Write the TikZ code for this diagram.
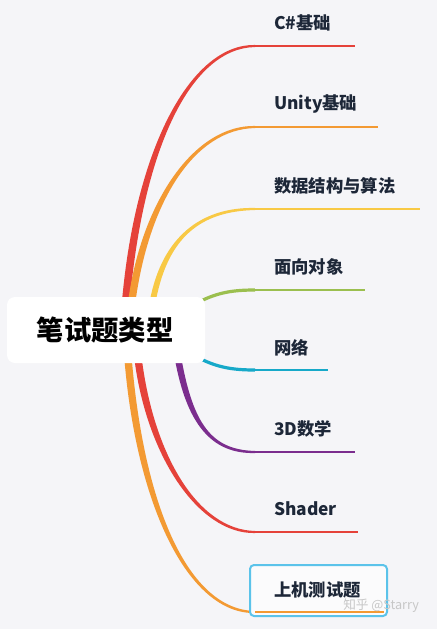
\documentclass[tikz,border=0pt]{standalone}
\usepackage{fontspec}
\newfontfamily\cjk{Noto Sans CJK SC}
\usetikzlibrary{calc}
\definecolor{bgcol}{HTML}{F5F5F8}
\definecolor{txtcol}{HTML}{1D2738}
\definecolor{cred}{HTML}{E5423A}
\definecolor{corange}{HTML}{F39A33}
\definecolor{cyellow}{HTML}{F8C945}
\definecolor{cgreen}{HTML}{9BBF4F}
\definecolor{ccyan}{HTML}{17A9C9}
\definecolor{cpurple}{HTML}{7B2D8E}
\definecolor{cbox}{HTML}{5BC3EA}
% tapered branch: [colour](start)(c1)(c2)(end)(w start:w end)
\def\branch[#1](#2)(#3)(#4)(#5)(#6:#7){\fill[#1] ($(#2)+(-#6,0)$) .. controls ($(#3)+(-#6,0)$) and ($(#4)+(0,{-2*(#7)})$) .. ($(#5)+(0,{-(#7)})$) -- ($(#5)+(0,{#7})$) .. controls ($(#4)+(0,{2*(#7)})$) and ($(#3)+(#6,0)$) .. ($(#2)+(#6,0)$) -- cycle;}
\tikzset{
  lbl/.style={anchor=west, inner sep=0pt, text=txtcol, font=\cjk\bfseries\fontsize{13}{15}\selectfont},
  tail/.style={line width=1.6pt},
}

\begin{document}
\begin{tikzpicture}[x=0.75pt, y=-0.75pt]
			%%%%% START %%%%%
			
			\fill[bgcol] (0, 0) rectangle (437, 629);
			\useasboundingbox (0, 0) rectangle (437, 629);
			
			% upper branches
			\branch[cred](126, 300)(140, 145)(192, 46)(255, 46)(3.9:1.05)
			\branch[corange](132, 300)(146, 200)(195, 127)(255, 127)(3.7:1.05)
			\branch[cyellow](153, 300)(165, 238)(200, 209)(255, 209)(3.0:1.05)
			\draw[cgreen, line width=2.4pt] (203, 300) .. controls (220, 292) and (235, 290) .. (255, 290);
			
			% lower branches
			\draw[ccyan, line width=2.4pt] (203, 360) .. controls (220, 368) and (235, 370) .. (255, 370);
			\branch[cpurple](178, 358)(190, 425)(212, 452)(255, 452)(3.3:-1.05)
			\branch[cred](138, 358)(150, 455)(198, 532)(255, 532)(3.7:-1.05)
			\branch[corange](128, 358)(140, 505)(188, 612)(255, 612)(3.7:-1.05)
			
			% last topic box
			\draw[cbox, fill=bgcol!40!white, line width=1.5pt, rounded corners=3pt] (250, 565) rectangle (387, 616);
			
			% tails
			\draw[tail, cred] (255, 46) -- (355, 46);
			\draw[tail, corange] (255, 127) -- (378, 127);
			\draw[tail, cyellow] (255, 209) -- (420, 209);
			\draw[tail, cgreen] (255, 290) -- (365, 290);
			\draw[tail, ccyan] (255, 370) -- (328, 370);
			\draw[tail, cpurple] (255, 452) -- (355, 452);
			\draw[tail, cred] (255, 532) -- (358, 532);
			\draw[tail, corange] (255, 612) -- (384, 612);
			
			% labels
			\node[lbl] (t1) at (274, 23) {C\#基础};
			\node[lbl] (t2) at (274, 104) {Unity基础};
			\node[lbl] (t3) at (274, 186) {数据结构与算法};
			\node[lbl] (t4) at (274, 267) {面向对象};
			\node[lbl] (t5) at (274, 348) {网络};
			\node[lbl] (t6) at (274, 429) {3D数学};
			\node[lbl] (t7) at (274, 509) {Shader};
			\node[lbl] (t8) at (274, 590) {上机测试题};
			
			% root
			\fill[white, rounded corners=6pt] (7, 297) rectangle (205, 363);
			\node[font=\cjk\bfseries\fontsize{20.5}{24}\selectfont, text=black] (root) at (105, 330) {笔试题类型};
			
			% watermark
			\node[anchor=west, inner sep=0pt, text=black!22, font=\cjk\fontsize{9.5}{11}\selectfont] (wm) at (343, 606) {知乎 @Starry};
			
			%%%%% END %%%%%
		\end{tikzpicture}
\end{document}
